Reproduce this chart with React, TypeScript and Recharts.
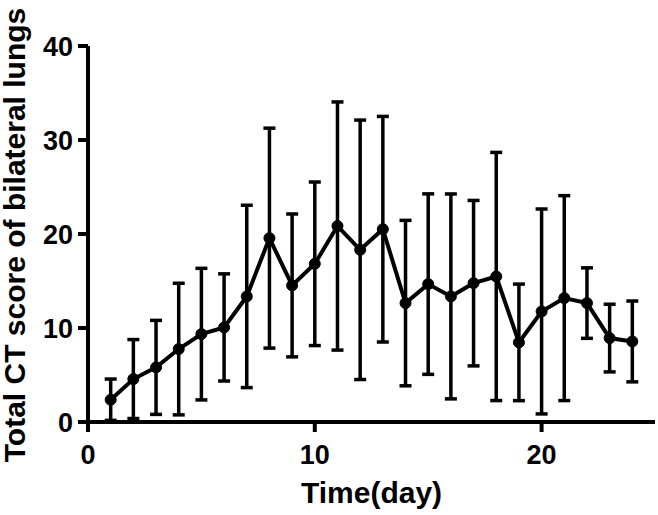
import React from 'react';
import { LineChart, Line, XAxis, YAxis, ErrorBar } from 'recharts';

const days = [1, 2, 3, 4, 5, 6, 7, 8, 9, 10, 11, 12, 13, 14, 15, 16, 17, 18, 19, 20, 21, 22, 23, 24];
const means = [2.37, 4.57, 5.81, 7.76, 9.35, 10.06, 13.36, 19.56, 14.53, 16.83, 20.85, 18.32, 20.51, 12.65, 14.67, 13.36, 14.77, 15.48, 8.47, 11.76, 13.18, 12.65, 8.93, 8.57];
const sds = [2.2, 4.2, 5.0, 7.0, 7.0, 5.7, 9.7, 11.7, 7.6, 8.7, 13.2, 13.8, 12.0, 8.8, 9.6, 10.9, 8.8, 13.2, 6.2, 10.9, 10.9, 3.75, 3.6, 4.3];
const xTicks = [0, 10, 20];
const yTicks = [0, 10, 20, 30, 40];
const xTitle = 'Time(day)';
const yTitle = 'Total CT score of bilateral lungs';

const data = days.map((d, i) => ({ day: d, mean: means[i], sd: sds[i] }));

const FONT = '"Liberation Sans", Arial, Helvetica, sans-serif';

const XTitle = (props: any) => {
  const vb = props.viewBox || {};
  return (
    <text
      x={vb.x + vb.width / 2}
      y={vb.y + vb.height - 12}
      textAnchor="middle"
      fontFamily={FONT}
      fontWeight="bold"
      fontSize={30}
      fill="#000"
    >
      {xTitle}
    </text>
  );
};

const YTitle = (props: any) => {
  const vb = props.viewBox || {};
  const cx = 25;
  const cy = vb.y + vb.height / 2 + 1;
  return (
    <text
      x={cx}
      y={cy}
      transform={`rotate(-90, ${cx}, ${cy})`}
      textAnchor="middle"
      fontFamily={FONT}
      fontWeight="bold"
      fontSize={30}
      fill="#000"
    >
      {yTitle}
    </text>
  );
};

export default function App() {
  return (
    <div style={{ position: 'absolute', left: 0, top: 0, width: 658, height: 515, background: '#fff' }}>
      <LineChart width={658} height={515} data={data} margin={{ top: 46, right: 3, bottom: 0, left: 0 }}>
        <XAxis
          type="number"
          dataKey="day"
          domain={[0, 25]}
          ticks={xTicks}
          height={93}
          tickSize={10}
          tickMargin={13}
          stroke="#000"
          strokeWidth={4}
          tick={{ fill: '#000', fontSize: 27, fontWeight: 'bold', fontFamily: FONT }}
          label={<XTitle />}
        />
        <YAxis
          type="number"
          domain={[0, 40]}
          ticks={yTicks}
          width={88}
          tickSize={10}
          tickMargin={5}
          stroke="#000"
          strokeWidth={4}
          tick={{ fill: '#000', fontSize: 27, fontWeight: 'bold', fontFamily: FONT }}
          label={<YTitle />}
        />
        <Line
          type="linear"
          dataKey="mean"
          stroke="#000"
          strokeWidth={4}
          dot={{ r: 5.5, fill: '#000', stroke: '#000', strokeWidth: 1 }}
          activeDot={false}
          isAnimationActive={false}
        >
          <ErrorBar dataKey="sd" direction="y" width={6} stroke="#000" strokeWidth={3.5} isAnimationActive={false} />
        </Line>
      </LineChart>
    </div>
  );
}
